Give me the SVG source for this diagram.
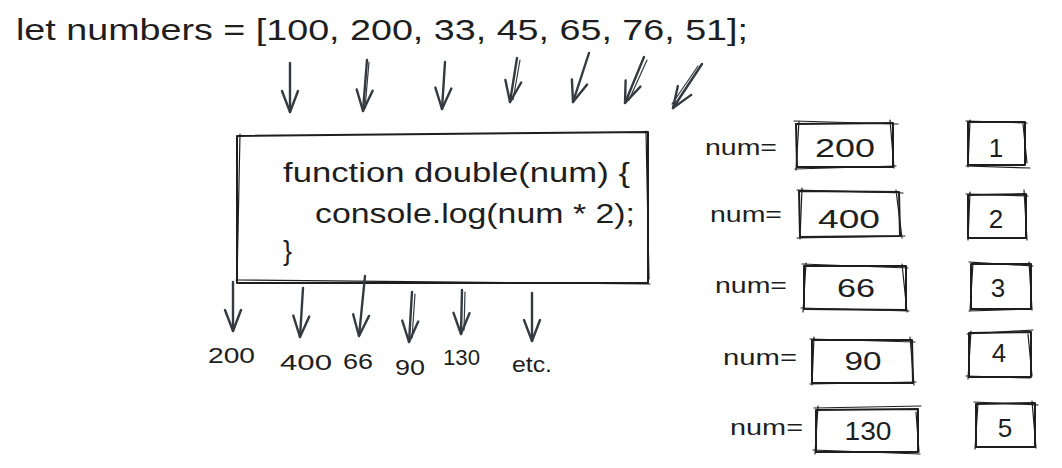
<svg xmlns="http://www.w3.org/2000/svg" width="1062" height="468" viewBox="0 0 1062 468">
<defs>
<style>
.t{font-family:"Liberation Sans","DejaVu Sans",sans-serif;fill:#1e1e1e}
.box{fill:none;stroke:#1e1e1e;stroke-width:2;stroke-linecap:round;stroke-linejoin:round}
.box2{fill:none;stroke:#1e1e1e;stroke-width:1.2;stroke-linecap:round}
.arr{fill:none;stroke:#343a40;stroke-width:2.4;stroke-linecap:round;marker-end:url(#head)}
.arr2{fill:none;stroke:#343a40;stroke-width:1.2;stroke-linecap:round}
</style>
<marker id="head" markerUnits="userSpaceOnUse" markerWidth="30" markerHeight="24" viewBox="-24 -12 28 24" refX="0" refY="0" orient="auto">
<path d="M-21,-8 L0,0 L-21,8" fill="none" stroke="#343a40" stroke-width="2.4" stroke-linecap="round" stroke-linejoin="round"/>
</marker>
</defs>
<rect width="1062" height="468" fill="#ffffff"/>

<g id="title">
<text class="t" x="16" y="40" font-size="29" textLength="732" lengthAdjust="spacingAndGlyphs">let numbers = [100, 200, 33, 45, 65, 76, 51];</text>
</g>

<g id="function-box">
<path class="box" d="M237,136 L648,132 L648,283 L237,283 Z"/>
<path class="box2" d="M240,134 L237,282 M236,280 L650,284 M646,131 L649,279"/>
<text class="t" x="283" y="182" font-size="27" textLength="347" lengthAdjust="spacingAndGlyphs">function double(num) {</text>
<text class="t" x="315" y="223" font-size="27" textLength="320" lengthAdjust="spacingAndGlyphs">console.log(num * 2);</text>
<text class="t" x="283" y="260" font-size="27">}</text>
</g>

<g id="outputs">
<text class="t" x="208" y="363" font-size="22" textLength="47" lengthAdjust="spacingAndGlyphs">200</text>
<text class="t" x="280" y="370" font-size="22" textLength="52" lengthAdjust="spacingAndGlyphs">400</text>
<text class="t" x="343" y="369" font-size="22" textLength="30" lengthAdjust="spacingAndGlyphs">66</text>
<text class="t" x="395" y="375" font-size="22" textLength="30" lengthAdjust="spacingAndGlyphs">90</text>
<text class="t" x="443" y="365" font-size="22" textLength="37" lengthAdjust="spacingAndGlyphs">130</text>
<text class="t" x="512" y="372" font-size="22" textLength="40" lengthAdjust="spacingAndGlyphs">etc.</text>
</g>

<g id="connectors">
<path class="arr" d="M290,63 L290,112"/>
<path class="arr" d="M367,60 L363,111"/>
<path class="arr2" d="M369,62 L365,108"/>
<path class="arr" d="M445,62 L442,109"/>
<path class="arr" d="M517,58 L510,102"/>
<path class="arr2" d="M520,60 L513,100"/>
<path class="arr" d="M589,53 L573,102"/>
<path class="arr" d="M644,57 L625,103"/>
<path class="arr2" d="M647,60 L629,100"/>
<path class="arr" d="M702,64 L673,108"/>
<path class="arr2" d="M698,66 L672,104"/>
<path class="arr" d="M233,282 L233,331"/>
<path class="arr" d="M303,288 L300,337"/>
<path class="arr" d="M365,276 L359,336"/>
<path class="arr" d="M412,292 L409,342"/>
<path class="arr2" d="M415,294 L412,338"/>
<path class="arr" d="M462,290 L461,334"/>
<path class="arr2" d="M465,292 L464,330"/>
<path class="arr" d="M532,293 L532,341"/>
</g>

<g id="row1">
<text class="t" x="705" y="155" font-size="22" textLength="72" lengthAdjust="spacingAndGlyphs">num=</text>
<path class="box" d="M796,124 L893,123 L893,167 L797,167 Z"/>
<path class="box2" d="M794,121 L898,124 M799,121 L796,170 M890,120 L894,168 M795,169 L896,166"/>
<text class="t" x="845" y="157" font-size="26" text-anchor="middle" textLength="60" lengthAdjust="spacingAndGlyphs">200</text>
<path class="box" d="M968,122 L1025,122 L1025,165 L968,165 Z"/>
<path class="box2" d="M966,121 L1027,123 M970,120 L968,167 M1023,124 L1027,163 M966,166 L1030,168"/>
<text class="t" x="996" y="157" font-size="26" text-anchor="middle">1</text>
</g>

<g id="row2">
<text class="t" x="710" y="222" font-size="22" textLength="72" lengthAdjust="spacingAndGlyphs">num=</text>
<path class="box" d="M799,191 L899,192 L900,236 L800,237 Z"/>
<path class="box2" d="M797,190 L903,193 M802,188 L800,239 M896,190 L902,238 M797,238 L905,236"/>
<text class="t" x="849" y="228" font-size="26" text-anchor="middle" textLength="62" lengthAdjust="spacingAndGlyphs">400</text>
<path class="box" d="M968,195 L1026,194 L1026,238 L968,238 Z"/>
<path class="box2" d="M966,194 L1028,196 M970,192 L968,240 M1024,190 L1027,240"/>
<text class="t" x="996" y="228" font-size="26" text-anchor="middle">2</text>
</g>

<g id="row3">
<text class="t" x="715" y="293" font-size="22" textLength="72" lengthAdjust="spacingAndGlyphs">num=</text>
<path class="box" d="M804,266 L906,266 L906,310 L804,309 Z"/>
<path class="box2" d="M802,264 L908,268 M806,263 L803,312 M902,264 L907,312 M801,308 L909,311"/>
<text class="t" x="856" y="297" font-size="26" text-anchor="middle" textLength="38" lengthAdjust="spacingAndGlyphs">66</text>
<path class="box" d="M971,264 L1031,264 L1031,309 L971,309 Z"/>
<path class="box2" d="M969,262 L1033,266 M973,263 L970,311 M1029,262 L1032,310 M969,311 L1030,309"/>
<text class="t" x="998" y="297" font-size="26" text-anchor="middle">3</text>
</g>

<g id="row4">
<text class="t" x="723" y="365" font-size="22" textLength="74" lengthAdjust="spacingAndGlyphs">num=</text>
<path class="box" d="M812,340 L912,340 L913,383 L812,383 Z"/>
<path class="box2" d="M810,339 L915,342 M814,337 L812,385 M910,337 L914,385 M810,384 L916,382"/>
<text class="t" x="863" y="370" font-size="26" text-anchor="middle" textLength="37" lengthAdjust="spacingAndGlyphs">90</text>
<path class="box" d="M969,333 L1031,332 L1031,377 L969,377 Z"/>
<path class="box2" d="M967,334 L1033,330 M971,331 L968,379 M1028,334 L1032,376 M966,376 L1030,378"/>
<text class="t" x="999" y="362" font-size="26" text-anchor="middle">4</text>
</g>

<g id="row5">
<text class="t" x="730" y="435" font-size="22" textLength="73" lengthAdjust="spacingAndGlyphs">num=</text>
<path class="box" d="M816,410 L918,409 L918,452 L816,452 Z"/>
<path class="box2" d="M814,408 L921,406 M818,406 L815,454 M916,412 L919,452 M813,450 L920,454"/>
<text class="t" x="868" y="440" font-size="26" text-anchor="middle" textLength="47" lengthAdjust="spacingAndGlyphs">130</text>
<path class="box" d="M976,404 L1035,403 L1035,447 L976,447 Z"/>
<path class="box2" d="M974,402 L1038,405 M978,403 L975,449 M1032,401 L1036,448"/>
<text class="t" x="1005" y="437" font-size="26" text-anchor="middle">5</text>
</g>
</svg>
